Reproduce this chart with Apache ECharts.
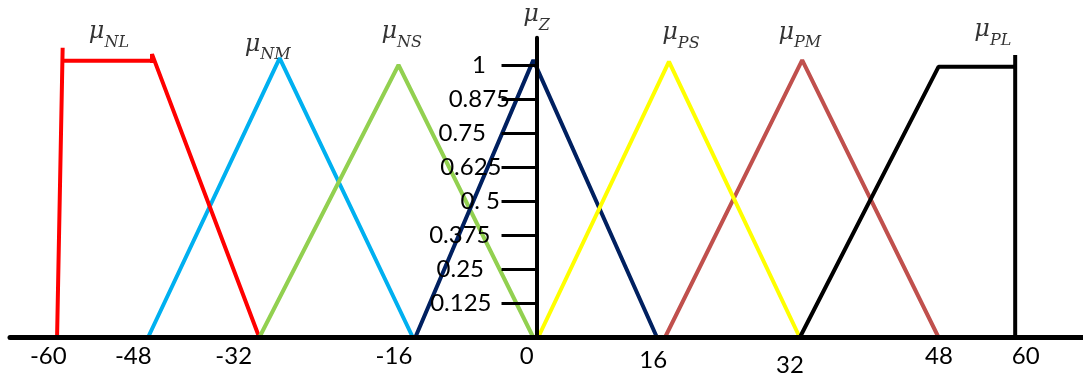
<!DOCTYPE html>
<html><head><meta charset="utf-8">
<script src="https://cdn.jsdelivr.net/npm/echarts@6/dist/echarts.min.js"></script>
<style>html,body{margin:0;padding:0;background:#fff}#c{width:1083px;height:376px}</style>
</head><body><div id="c"></div>
<script>
// ---- data (x in universe units, y = membership degree) ----
const xTickValues = [-60, -48, -32, -16, 0, 16, 32, 48, 60];
const xTickLabels = ['-60', '-48', '-32', '-16', '0', '16', '32', '48', '60'];
const yTickValues = [0.125, 0.25, 0.375, 0.5, 0.625, 0.75, 0.875, 1];
const yTickLabels = ['0.125', '0.25', '0.375', '0. 5', '0.625', '0.75', '0.875', '1'];

const setNames = ['NL', 'NM', 'NS', 'Z', 'PS', 'PM', 'PL'];
// label anchors for the μ names
const nameX = [-53.6, -33.7, -16.9, 0.0, 18.1, 33.0, 57.2];
const nameY = [1.109, 1.063, 1.109, 1.170, 1.104, 1.107, 1.115];

// membership function outlines (null pairs break the pen)
const muNL = [[-60.1, 0], [-59.4, 1.063], [null, null], [-59.4, 1.016], [-48.2, 1.016], [null, null], [-48.2, 1.007], [-48.2, 1.04], [-34.75, 0]];
const muNM = [[-48.7, 0], [-32.2, 1.025], [-15.5, 0], [-48.7, 0]];
const muNS = [[-34.75, 0], [-17.3, 1.0], [-0.4, 0], [-34.75, 0]];
const muZ  = [[-15.2, 0], [-0.4, 1.018], [15.1, 0], [-15.2, 0]];
const muPS = [[0.2, 0], [16.6, 1.012], [33.0, 0], [0.2, 0]];
const muPM = [[16.1, 0], [33.3, 1.018], [50.4, 0], [16.1, 0]];
const muPL = [[33.0, 0], [50.4, 0.994], [60.0, 0.994], [60.0, 1.037], [60.0, 0]];

const xMin = -66, xMax = 68.5, yMin = 0, yMax = 1.1;

// ---- styles ----
const colors = {NL: '#FF0000', NM: '#00B0F0', NS: '#92D050', Z: '#002060', PS: '#FFFF00', PM: '#C0504D', PL: '#000000'};
// per-label nudges [dx, dy] in px to follow the hand-placed labels
const xLabelNudge = [[-9.6, 0], [-20.3, 0], [-47.5, 0], [-14.9, 0], [-9.8, 0], [-10.9, 4], [-1.8, 9], [19.5, 0], [10.6, 0]];
const yLabelPadRight = [19, 26.5, 20, 10.5, 9, 24.5, 0.5, 24.5];

const tickFont = 'Lato';
const xRich = {};
xLabelNudge.forEach(function (n, i) {
  const dx = n[0], dy = n[1];
  xRich['x' + i] = {
    fontSize: 24, fontFamily: tickFont, color: '#000',
    padding: [dy, dx < 0 ? -2 * dx : 0, 0, dx > 0 ? 2 * dx : 0]
  };
});
const yRich = {};
yLabelPadRight.forEach(function (p, i) {
  yRich['y' + i] = {fontSize: 24, fontFamily: tickFont, color: '#000', padding: [0, p, 0, 0]};
});

function lineSeries(name, data) {
  return {
    type: 'line', name: name, data: data, showSymbol: false, symbol: 'none',
    connectNulls: false, silent: true, z: 2,
    lineStyle: {color: colors[name], width: 4, cap: 'butt', join: 'bevel'}
  };
}

const chart = echarts.init(document.getElementById('c'), null, {renderer: 'canvas'});
chart.setOption({
  animation: false,
  backgroundColor: '#fff',
  grid: {left: 10, right: 0, top: 37.75, bottom: 38.5, containLabel: false, outerBoundsMode: 'none'},
  xAxis: {
    type: 'value', min: xMin, max: xMax, z: 5,
    axisLine: {onZero: true, lineStyle: {color: '#000', width: 5}},
    axisTick: {show: false},
    splitLine: {show: false},
    axisLabel: {
      customValues: xTickValues, margin: 7,
      formatter: function (v) {
        const i = xTickValues.indexOf(v);
        return '{x' + i + '|' + xTickLabels[i] + '}';
      },
      rich: xRich
    }
  },
  yAxis: {
    type: 'value', min: yMin, max: yMax, z: 5, position: 'left', offset: 0,
    axisLine: {onZero: false, lineStyle: {color: '#000', width: 4}},
    axisTick: {show: true, customValues: yTickValues, length: 35, lineStyle: {color: '#000', width: 3}},
    splitLine: {show: false},
    axisLabel: {
      show: true, customValues: yTickValues, margin: 26, hideOverlap: false,
      fontSize: 24, fontFamily: tickFont, color: '#000',
      formatter: function (v) {
        let i = -1;
        for (let k = 0; k < yTickValues.length; k++) {
          if (Math.abs(yTickValues[k] - Number(v)) < 1e-6) { i = k; }
        }
        return i < 0 ? '' : '{y' + i + '|' + yTickLabels[i] + '}';
      },
      rich: yRich
    }
  },
  series: [
    lineSeries('NM', muNM),
    lineSeries('NL', muNL),
    lineSeries('NS', muNS),
    lineSeries('Z', muZ),
    lineSeries('PM', muPM),
    lineSeries('PS', muPS),
    lineSeries('PL', muPL),
    {
      type: 'scatter', symbolSize: 0, clip: false, silent: true, z: 6,
      data: nameX.map(function (x, i) { return [x, nameY[i]]; }),
      label: {
        show: true, position: 'inside',
        formatter: function (p) { return '{mu|μ}{sub|' + setNames[p.dataIndex] + '}'; },
        rich: {
          mu: {fontFamily: 'DejaVu Serif', fontStyle: 'italic', fontSize: 24, verticalAlign: 'top', color: '#000'},
          sub: {fontFamily: 'DejaVu Serif', fontStyle: 'italic', fontSize: 16, verticalAlign: 'top', padding: [15, 0, 0, 0], color: '#000'}
        }
      }
    }
  ]
});
// move the y axis onto x = 0 using the x scale of the chart
const zeroPx = chart.convertToPixel({xAxisIndex: 0}, 0);
const leftPx = chart.convertToPixel({xAxisIndex: 0}, xMin);
chart.setOption({yAxis: {offset: -(zeroPx - leftPx)}});
</script>
</body></html>
